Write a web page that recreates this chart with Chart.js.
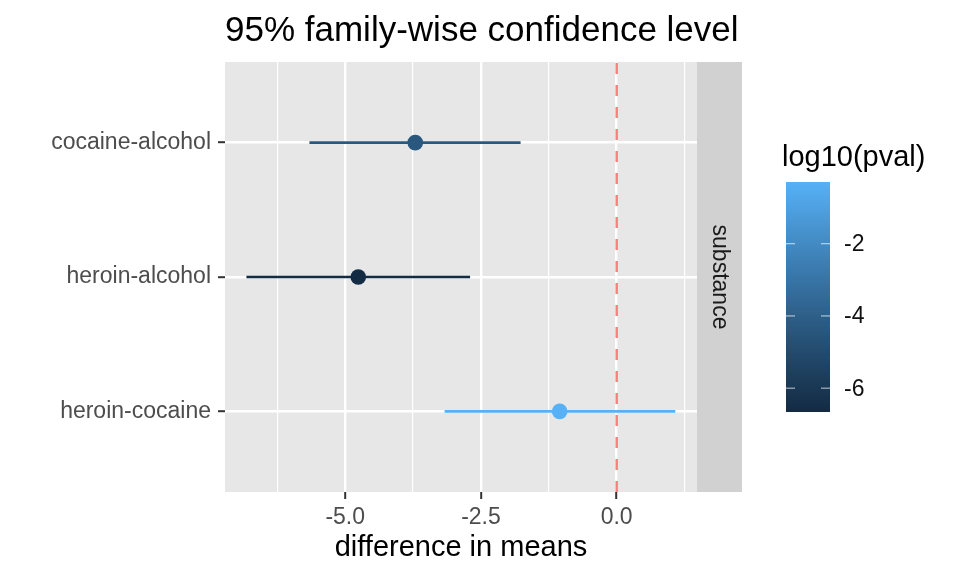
<!DOCTYPE html>
<html>
<head>
<meta charset="utf-8">
<script src="https://cdn.jsdelivr.net/npm/chart.js@4/dist/chart.umd.min.js"></script>
<style>
  html, body { margin: 0; background: #ffffff; }
</style>
</head>
<body>
<canvas id="tukeyChart" width="960" height="576"></canvas>
<script>
// Tukey HSD comparisons (top to bottom)
const comparisons = ['cocaine-alcohol', 'heroin-alcohol', 'heroin-cocaine'];
const estimates = [-3.71, -4.76, -1.05];
const lowerCI = [-5.66, -6.82, -3.17];
const upperCI = [-1.77, -2.70, 1.08];
const log10pval = [-4.4, -6.66, -0.29];

const xTickValues = [-5, -2.5, 0];
const xTickLabels = ['-5.0', '-2.5', '0.0'];
const xMinorValues = [-6.25, -3.75, -1.25, 1.25];
const legendTicks = [-2, -4, -6];

const FONT = '"Liberation Sans", Arial, Helvetica, sans-serif';

// ggplot-style colour ramp #132B43 -> #56B1F7, interpolated in CIELAB
function hexToRgb(h) {
    return [1, 3, 5].map(i => parseInt(h.substr(i, 2), 16));
}
function rgbToLab(rgb) {
    const lin = rgb.map(c => {
        c /= 255;
        return c <= 0.04045 ? c / 12.92 : Math.pow((c + 0.055) / 1.055, 2.4);
    });
    let x = (lin[0] * 0.4124 + lin[1] * 0.3576 + lin[2] * 0.1805) / 0.95047;
    let y = (lin[0] * 0.2126 + lin[1] * 0.7152 + lin[2] * 0.0722);
    let z = (lin[0] * 0.0193 + lin[1] * 0.1192 + lin[2] * 0.9505) / 1.08883;
    const f = t => t > 0.008856 ? Math.cbrt(t) : 7.787 * t + 16 / 116;
    x = f(x); y = f(y); z = f(z);
    return [116 * y - 16, 500 * (x - y), 200 * (y - z)];
}
function labToRgb(lab) {
    let y = (lab[0] + 16) / 116;
    let x = lab[1] / 500 + y;
    let z = y - lab[2] / 200;
    const fi = t => t * t * t > 0.008856 ? t * t * t : (t - 16 / 116) / 7.787;
    x = fi(x) * 0.95047; y = fi(y); z = fi(z) * 1.08883;
    let r = x * 3.2406 + y * -1.5372 + z * -0.4986;
    let g = x * -0.9689 + y * 1.8758 + z * 0.0415;
    let b = x * 0.0557 + y * -0.2040 + z * 1.0570;
    return [r, g, b].map(c => {
        c = c <= 0.0031308 ? 12.92 * c : 1.055 * Math.pow(c, 1 / 2.4) - 0.055;
        return Math.round(Math.max(0, Math.min(1, c)) * 255);
    });
}
const labLow = rgbToLab(hexToRgb('#132B43'));
const labHigh = rgbToLab(hexToRgb('#56B1F7'));
const pMin = Math.min(...log10pval);
const pMax = Math.max(...log10pval);
function pvalColour(v) {
    const t = (v - pMin) / (pMax - pMin);
    const lab = labLow.map((l, i) => l + (labHigh[i] - l) * t);
    const c = labToRgb(lab);
    return 'rgb(' + c.join(',') + ')';
}

const yPos = i => comparisons.length - i;

const datasets = [];
// red dashed reference line at zero
datasets.push({
    type: 'line',
    data: [{ x: 0, y: 0.4 }, { x: 0, y: 3.6 }],
    borderColor: 'rgba(255,0,0,0.5)',
    borderWidth: 2.4,
    borderDash: [11, 11],
    pointRadius: 0,
    order: 0
});
comparisons.forEach((name, i) => {
    const col = pvalColour(log10pval[i]);
    datasets.push({
        type: 'scatter',
        data: [{ x: estimates[i], y: yPos(i) }],
        backgroundColor: col,
        borderColor: col,
        pointRadius: 7.8,
        borderWidth: 0,
        order: 1
    });
    datasets.push({
        type: 'line',
        data: [{ x: lowerCI[i], y: yPos(i) }, { x: upperCI[i], y: yPos(i) }],
        borderColor: col,
        borderWidth: 2.7,
        pointRadius: 0,
        order: 2
    });
});

const panelDecor = {
    id: 'panelDecor',
    beforeDraw(chart) {
        const { ctx, chartArea: a } = chart;
        ctx.save();
        ctx.fillStyle = '#e7e7e7';
        ctx.fillRect(a.left, a.top, a.right - a.left, a.bottom - a.top);
        ctx.restore();
    },
    afterDraw(chart) {
        const { ctx, chartArea: a } = chart;
        ctx.save();
        // facet strip on the right
        ctx.fillStyle = '#d1d1d1';
        ctx.fillRect(a.right, a.top, 45, a.bottom - a.top);
        ctx.translate(a.right + 22.5, (a.top + a.bottom) / 2);
        ctx.rotate(Math.PI / 2);
        ctx.fillStyle = '#1a1a1a';
        ctx.font = '23px ' + FONT;
        ctx.textAlign = 'center';
        ctx.textBaseline = 'middle';
        ctx.fillText('substance', 0, 0);
        ctx.restore();

        ctx.save();
        // title and x axis title
        ctx.fillStyle = '#000000';
        ctx.font = '35px ' + FONT;
        ctx.textAlign = 'left';
        ctx.textBaseline = 'middle';
        ctx.fillText('95% family-wise confidence level', a.left, 31);
        ctx.font = '29px ' + FONT;
        ctx.textAlign = 'center';
        ctx.fillText('difference in means', (a.left + a.right) / 2, 548);

        // colour bar legend
        const barL = 786, barW = 44, barT = 182, barB = 412;
        ctx.textAlign = 'left';
        ctx.fillText('log10(pval)', 782, 158);
        for (let y = barT; y < barB; y++) {
            const v = pMax - (y + 0.5 - barT) / (barB - barT) * (pMax - pMin);
            ctx.fillStyle = pvalColour(v);
            ctx.fillRect(barL, y, barW, 1);
        }
        ctx.font = '23px ' + FONT;
        ctx.fillStyle = '#111111';
        ctx.strokeStyle = 'rgba(255,255,255,0.75)';
        ctx.lineWidth = 1;
        legendTicks.forEach(v => {
            const y = barT + (pMax - v) / (pMax - pMin) * (barB - barT);
            ctx.beginPath();
            ctx.moveTo(barL, y); ctx.lineTo(barL + 9, y);
            ctx.moveTo(barL + barW - 9, y); ctx.lineTo(barL + barW, y);
            ctx.stroke();
            ctx.fillText(String(v), barL + barW + 14, y + 1);
        });
        ctx.restore();
    }
};

new Chart(document.getElementById('tukeyChart').getContext('2d'), {
    data: { datasets },
    options: {
        responsive: false,
        animation: false,
        devicePixelRatio: 1,
        layout: { padding: { left: 0, right: 263, top: 62, bottom: 0 } },
        plugins: { legend: { display: false }, tooltip: { enabled: false } },
        scales: {
            x: {
                type: 'linear',
                min: -7.215,
                max: 1.48,
                afterBuildTicks: axis => {
                    axis.ticks = xMinorValues.concat(xTickValues)
                        .sort((p, q) => p - q)
                        .map(v => ({ value: v }));
                },
                afterFit: scale => { scale.height = 84; },
                border: { display: false },
                grid: {
                    color: '#ffffff',
                    lineWidth: c => xTickValues.includes(c.tick.value) ? 2.4 : 1.2,
                    tickColor: c => xTickValues.includes(c.tick.value) ? '#333333' : 'rgba(0,0,0,0)',
                    tickLength: 7,
                    tickWidth: 2
                },
                ticks: {
                    autoSkip: false,
                    maxRotation: 0,
                    padding: 5,
                    color: '#4d4d4d',
                    font: { family: FONT, size: 23 },
                    callback: v => {
                        const k = xTickValues.indexOf(v);
                        return k >= 0 ? xTickLabels[k] : '';
                    }
                }
            },
            y: {
                type: 'linear',
                min: 0.4,
                max: 3.6,
                afterBuildTicks: axis => {
                    axis.ticks = comparisons.map((c, i) => ({ value: yPos(i) }));
                },
                afterFit: scale => { scale.width = 225; },
                border: { display: false },
                grid: {
                    color: '#ffffff',
                    lineWidth: 2.4,
                    tickColor: '#333333',
                    tickLength: 7,
                    tickWidth: 2
                },
                ticks: {
                    autoSkip: false,
                    padding: 7,
                    color: '#4d4d4d',
                    font: { family: FONT, size: 23 },
                    callback: v => comparisons[comparisons.length - v]
                }
            }
        }
    },
    plugins: [panelDecor]
});
</script>
</body>
</html>
